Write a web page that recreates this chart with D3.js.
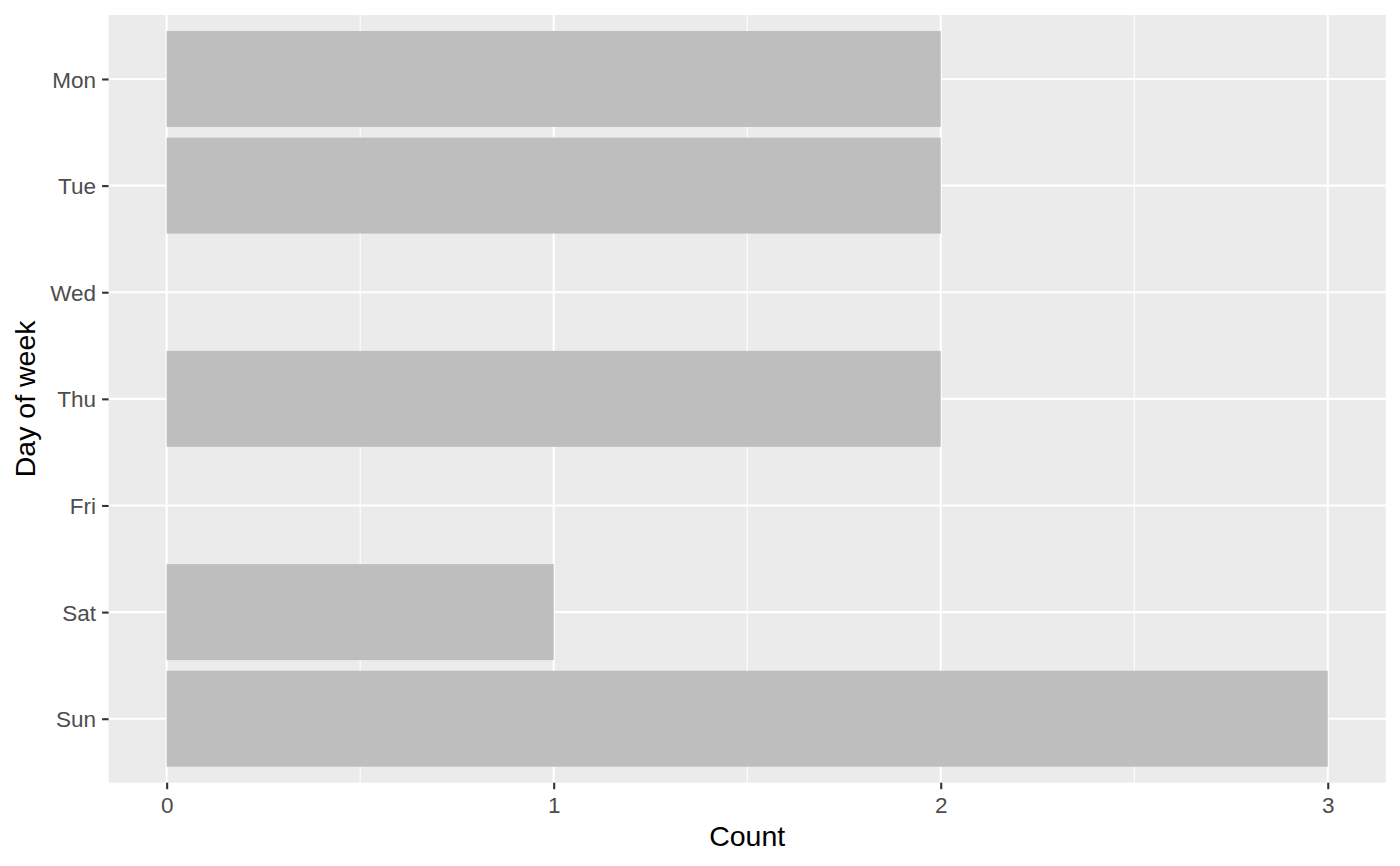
<!DOCTYPE html>
<html>
<head>
<meta charset="utf-8">
<script src="https://cdn.jsdelivr.net/npm/d3@7"></script>
<style>
  html, body { margin: 0; padding: 0; background: #fff; }
  text { font-family: "Liberation Sans", Arial, Helvetica, sans-serif; }
</style>
</head>
<body>
<svg id="chart" width="1400" height="866"></svg>
<script>
const days = ["Mon", "Tue", "Wed", "Thu", "Fri", "Sat", "Sun"];
const counts = [2, 2, 0, 2, 0, 1, 3];
const xTicks = [0, 1, 2, 3];
const xMinor = [0.5, 1.5, 2.5];
const xTitle = "Count";
const yTitle = "Day of week";

const W = 1400, H = 866;
const panel = { left: 108.6, right: 1385.8, top: 15, bottom: 782.7 };

const svg = d3.select("#chart");

const x = d3.scaleLinear().domain([-0.15, 3.15]).range([panel.left, panel.right]);
const y = d3.scalePoint().domain(days).range([panel.top, panel.bottom]).padding(0.6);
const step = y.step();

// panel background
svg.append("rect")
  .attr("x", panel.left).attr("y", panel.top)
  .attr("width", panel.right - panel.left).attr("height", panel.bottom - panel.top)
  .attr("fill", "#EBEBEB");

// minor x grid
svg.append("g").selectAll("line").data(xMinor).join("line")
  .attr("x1", d => x(d)).attr("x2", d => x(d))
  .attr("y1", panel.top).attr("y2", panel.bottom)
  .attr("stroke", "#fff").attr("stroke-width", 1.05);

// major x grid
svg.append("g").selectAll("line").data(xTicks).join("line")
  .attr("x1", d => x(d)).attr("x2", d => x(d))
  .attr("y1", panel.top).attr("y2", panel.bottom)
  .attr("stroke", "#fff").attr("stroke-width", 2.1);

// major y grid
svg.append("g").selectAll("line").data(days).join("line")
  .attr("x1", panel.left).attr("x2", panel.right)
  .attr("y1", d => y(d)).attr("y2", d => y(d))
  .attr("stroke", "#fff").attr("stroke-width", 2.1);

// bars
const data = days.map((d, i) => ({ day: d, count: counts[i] }));
svg.append("g").selectAll("rect").data(data.filter(d => d.count > 0)).join("rect")
  .attr("x", x(0))
  .attr("y", d => y(d.day) - step * 0.45)
  .attr("width", d => x(d.count) - x(0))
  .attr("height", step * 0.9)
  .attr("fill", "#BEBEBE");

// x axis
const xAxis = d3.axisBottom(x).tickValues(xTicks).tickFormat(d3.format("d"))
  .tickSizeInner(6.5).tickSizeOuter(0).tickPadding(5);
const gx = svg.append("g").attr("transform", `translate(0,${panel.bottom})`).call(xAxis);
gx.select(".domain").remove();
gx.selectAll(".tick line").attr("stroke", "#333333").attr("stroke-width", 2.1);
gx.selectAll(".tick text").attr("fill", "#4D4D4D").attr("font-size", 22.5)
  .attr("font-family", "Liberation Sans, Arial, sans-serif").attr("dy", null).attr("y", 30);

// y axis
const yAxis = d3.axisLeft(y).tickSizeInner(6.5).tickSizeOuter(0).tickPadding(6);
const gy = svg.append("g").attr("transform", `translate(${panel.left},0)`).call(yAxis);
gy.select(".domain").remove();
gy.selectAll(".tick line").attr("stroke", "#333333").attr("stroke-width", 2.1);
gy.selectAll(".tick text").attr("fill", "#4D4D4D").attr("font-size", 22.5)
  .attr("font-family", "Liberation Sans, Arial, sans-serif").attr("x", -12.6).attr("dy", "0.36em");

// axis titles
svg.append("text")
  .attr("x", (panel.left + panel.right) / 2).attr("y", 845.7)
  .attr("text-anchor", "middle").attr("font-size", 28.5).attr("fill", "#000")
  .text(xTitle);

svg.append("text")
  .attr("transform", `translate(35,${(panel.top + panel.bottom) / 2}) rotate(-90)`)
  .attr("text-anchor", "middle").attr("font-size", 28.5).attr("fill", "#000")
  .text(yTitle);
</script>
</body>
</html>
